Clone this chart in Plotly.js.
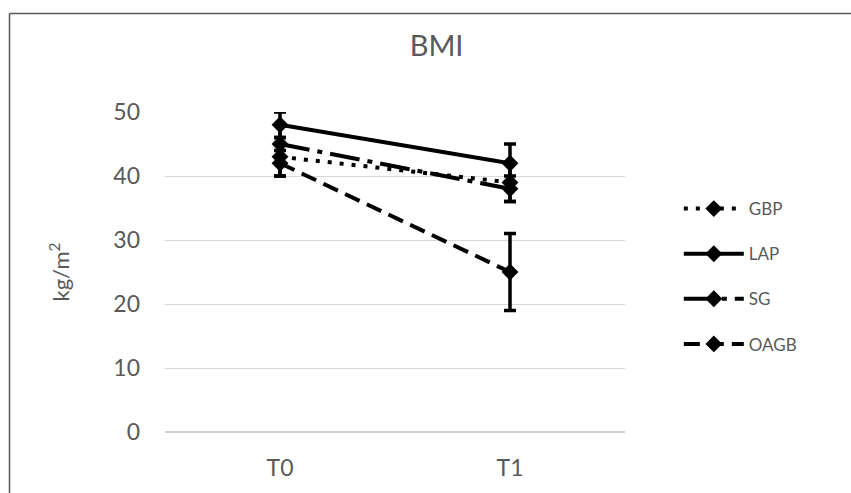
<!DOCTYPE html>
<html>
<head>
<meta charset="utf-8">
<script src="https://cdn.plot.ly/plotly-3.0.1.min.js"></script>
<style>
  html, body { margin: 0; padding: 0; background: #fff; }
  #chart { width: 851px; height: 493px; }
</style>
</head>
<body>
<div id="chart"></div>
<script>
// ---- data ----
const categories = ["T0", "T1"];
const seriesNames = ["GBP", "LAP", "SG", "OAGB"];
const gbp = [43, 39];
const lap = [48, 42];
const sg = [45, 38];
const oagb = [42, 25];
const gbpErr = [3, 3];
const lapErr = [2, 3];
const sgErr = [3, 2];
const oagbErr = [2, 6];
const yTicks = [0, 10, 20, 30, 40, 50];

const values = [gbp, lap, sg, oagb];
const errs = [gbpErr, lapErr, sgErr, oagbErr];
const dashes = ["4px,8px", "solid", "30px,8px,5px,8px", "16px,8px"];

const traces = seriesNames.map((name, i) => ({
  type: "scatter",
  mode: "lines+markers",
  name: name,
  x: categories,
  y: values[i],
  legendgroup: name,
  line: { color: "#000", width: 4, dash: dashes[i] },
  marker: { symbol: "diamond", size: 13, color: "#000" },
  error_y: { type: "data", array: errs[i], visible: true, color: "#000", thickness: 3.5, width: 6 }
}));

const gray = "#595959";
const layout = {
  width: 851, height: 493,
  margin: { l: 165, r: 226, t: 112, b: 61 },
  paper_bgcolor: "#fff", plot_bgcolor: "#fff",
  font: { family: "Lato, 'Open Sans', sans-serif", color: gray },
  title: { text: "BMI", font: { size: 29, color: gray }, x: 0.513, xanchor: "center", y: 1 - 46 / 493, yanchor: "middle" },
  xaxis: {
    type: "category", range: [-0.5, 1.5],
    showgrid: false, zeroline: false, showline: false,
    ticks: "", tickfont: { size: 23, color: gray }, ticklabelstandoff: 20
  },
  yaxis: {
    range: [0, 50], tickvals: yTicks, ticktext: yTicks.map(String),
    showgrid: true, gridcolor: "#d9d9d9", gridwidth: 1,
    zeroline: true, zerolinecolor: "#d0d0d0", zerolinewidth: 1.5,
    ticks: "", tickfont: { size: 23, color: gray }, ticklabelstandoff: 24,
    title: { text: "kg/m<sup>2</sup>", font: { size: 22, color: gray }, standoff: 37 }
  },
  showlegend: true,
  legend: {
    x: 1.117, xanchor: "left", y: 0.753, yanchor: "top",
    font: { size: 17, color: gray },
    traceorder: "grouped", tracegroupgap: 20,
    itemwidth: 60, bgcolor: "rgba(0,0,0,0)"
  },
  shapes: [
    { type: "line", xref: "paper", yref: "paper", x0: (9.5 - 165) / 460, x1: (9.5 - 165) / 460, y0: (432 - 13.5) / 320, y1: (432 - 520) / 320, line: { color: gray, width: 1.5 } },
    { type: "line", xref: "paper", yref: "paper", x0: (9.5 - 165) / 460, x1: (880 - 165) / 460, y0: (432 - 13.5) / 320, y1: (432 - 13.5) / 320, line: { color: gray, width: 1.5 } }
  ]
};

Plotly.newPlot("chart", traces, layout, { displayModeBar: false, staticPlot: true });
</script>
</body>
</html>
